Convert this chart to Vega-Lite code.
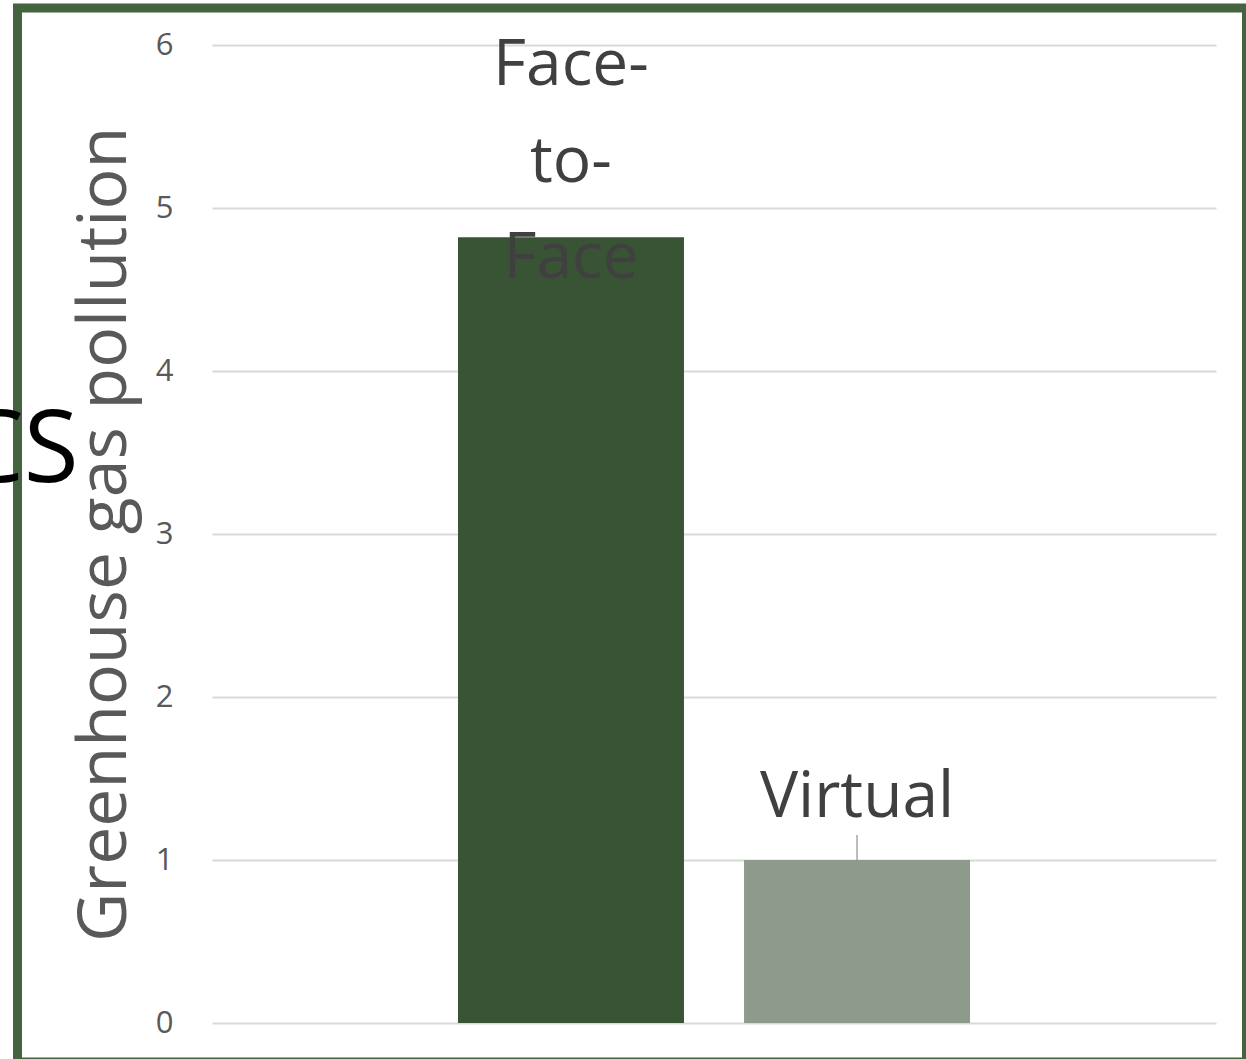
{
  "$schema": "https://vega.github.io/schema/vega-lite/v6.json",
  "width": 1229,
  "height": 1054,
  "autosize": {"type": "none"},
  "padding": {"left": 17.5, "top": 8, "right": 0, "bottom": 0},
  "background": "white",
  "config": {
    "view": {"stroke": "#44633f", "strokeWidth": 9},
    "font": "Open Sans"
  },
  "title": {
    "text": "CS",
    "orient": "top",
    "anchor": "start",
    "align": "right",
    "baseline": "alphabetic",
    "frame": "group",
    "offset": 0,
    "dx": 61,
    "dy": 574,
    "fontSize": 100,
    "fontWeight": "normal",
    "color": "#000000",
    "font": "Open Sans"
  },
  "data": {
    "values": [
      {"label": "Face-to-Face", "value": 4.82},
      {"label": "Virtual", "value": 1.0}
    ]
  },
  "encoding": {
    "x": {
      "field": "label",
      "type": "nominal",
      "sort": null,
      "axis": null,
      "scale": {"range": [194.5, 1198.5], "paddingInner": 0.21, "paddingOuter": 0.86}
    },
    "y": {
      "field": "value",
      "type": "quantitative",
      "scale": {"domain": [0, 6], "range": [1015, 37], "nice": false, "zero": true},
      "axis": {
        "title": "Greenhouse gas pollution",
        "values": [0, 1, 2, 3, 4, 5, 6],
        "offset": -194.5,
        "domain": false,
        "ticks": false,
        "tickSize": 0,
        "labelPadding": 39,
        "labelFontSize": 31,
        "labelColor": "#595959",
        "labelFont": "Open Sans",
        "labelFlush": false,
        "labelBaseline": "middle",
        "grid": true,
        "gridColor": "#d9d9d9",
        "gridWidth": 2,
        "titleFont": "Open Sans",
        "titleFontSize": 68,
        "titleColor": "#595959",
        "titleFontWeight": "normal",
        "titleAngle": -90,
        "titleX": -87,
        "titleY": 526,
        "titleAlign": "center",
        "titleBaseline": "alphabetic"
      }
    }
  },
  "layer": [
    {
      "mark": {"type": "bar"},
      "encoding": {
        "color": {
          "field": "label",
          "type": "nominal",
          "sort": null,
          "scale": {"range": ["#385434", "#8e9a8c"]},
          "legend": null
        }
      }
    },
    {
      "transform": [{"filter": "datum.label == 'Virtual'"}],
      "mark": {"type": "rule", "color": "#a6a6a6", "strokeWidth": 1.5, "y2Offset": -25},
      "encoding": {
        "y2": {"field": "value"}
      }
    },
    {
      "mark": {
        "type": "text",
        "fontSize": 64,
        "lineHeight": 96.5,
        "color": "#404040",
        "align": "center",
        "baseline": "alphabetic",
        "font": "Open Sans",
        "lineBreak": {"expr": "regexp('(?<=-)')"},
        "dy": {"expr": "datum.value > 4 ? -152 : -43"}
      },
      "encoding": {
        "text": {"field": "label"}
      }
    }
  ]
}
